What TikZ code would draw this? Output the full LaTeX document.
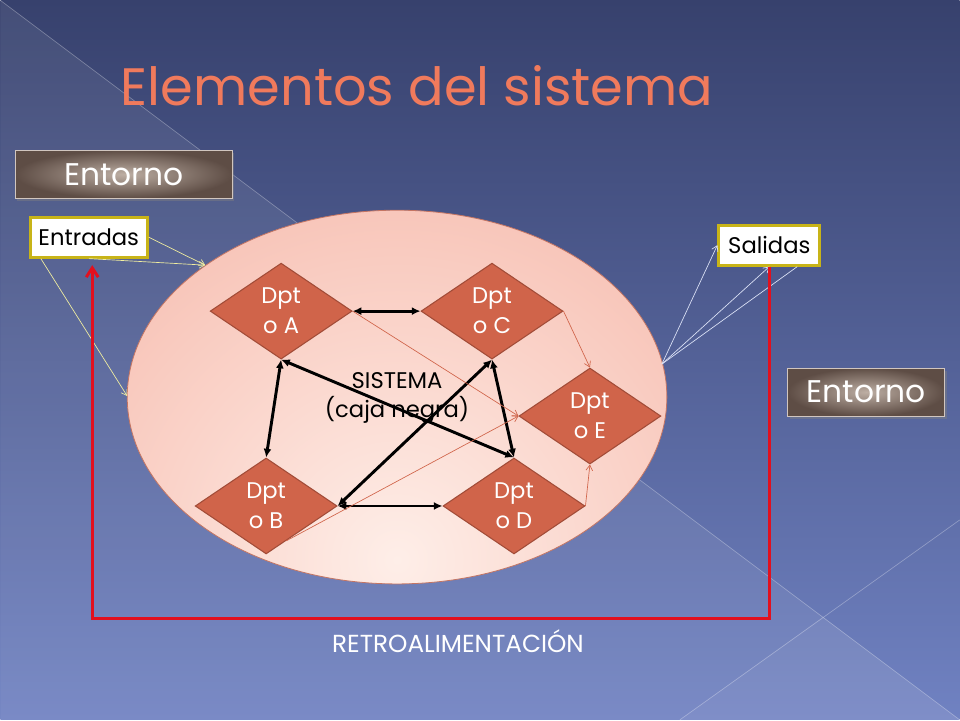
\documentclass[tikz,border=0pt]{standalone}
\usepackage{fontspec}
\setmainfont{Poppins}
\usepackage{tikz}
\usetikzlibrary{shapes.geometric, positioning}
\usetikzlibrary{arrows.meta}
\usetikzlibrary{shadows}
\definecolor{slidetop}{HTML}{37416D}
\definecolor{slidebot}{HTML}{7082C2}
\definecolor{titlesalmon}{HTML}{F07A5C}
\definecolor{syslight}{HTML}{FEEEE8}
\definecolor{sysdark}{HTML}{F4AA9A}
\definecolor{sysline}{HTML}{C47563}
\definecolor{dptfill}{HTML}{D0644A}
\definecolor{dptline}{HTML}{A24C38}
\definecolor{entlight}{HTML}{BDAEA3}
\definecolor{entdark}{HTML}{5E4D45}
\definecolor{ioline}{HTML}{C8B418}
\definecolor{inline}{HTML}{F2EFA0}
\definecolor{outline}{HTML}{DDE3F7}
\definecolor{fbred}{HTML}{E2101E}

\begin{document}
\begin{tikzpicture}[x=0.75pt, y=-0.75pt,
		dpt/.style={diamond, aspect=1.48, fill=dptfill, draw=dptline, line width=0.8pt,
			minimum width=106.5pt, minimum height=72pt, inner sep=0pt, text=white,
			align=center, font=\fontsize{17}{22.5}\selectfont},
		entorno/.style={rectangle, inner color=entlight, outer color=entdark,
			draw=entlight!70!white, line width=0.5pt, minimum height=36pt,
			text=white, font=\fontsize{23.5}{26}\selectfont,
			drop shadow={shadow xshift=1.5pt, shadow yshift=-2pt, opacity=0.45}},
		iobox/.style={rectangle, fill=white, draw=ioline, line width=2.2pt,
			minimum height=30pt, inner sep=0pt, font=\fontsize{17}{20}\selectfont},
		link/.style={<->, >={Latex[length=6.5pt, width=6pt]}, line width=2.2pt, black},
		flow/.style={->, >={Straight Barb[length=4pt, width=5pt]}, line width=0.5pt, dptfill},
		feed/.style={->, >={Straight Barb[length=7pt, width=9pt]}, line width=2.2pt, fbred}]

		% slide background with its faint diagonals
		\shade[top color=slidetop, bottom color=slidebot] (0,0) rectangle (960,720);
		\fill[white, opacity=0.07] (0,0) -- (960,720) -- (0,720) -- cycle;
		\fill[white, opacity=0.04] (680,720) -- (823,617) -- (960,720) -- cycle;
		\draw[white, opacity=0.3, line width=0.5pt] (0,0) -- (960,720);
		\draw[white, opacity=0.3, line width=0.5pt] (680,720) -- (960,520);

		% title
		\node[anchor=base, text=titlesalmon, font=\fontsize{39.5}{44}\selectfont] (title) at (417,105)
			{Elementos del sistema};

		% the system (caja negra)
		\begin{scope}
			\clip (397,397) ellipse (270 and 187);
			\shade[inner color=syslight, outer color=sysdark] (397,560) circle (600);
		\end{scope}
		\draw[sysline, line width=0.6pt] (397,397) ellipse (270 and 187);
		\node[align=center, font=\fontsize{17}{22.5}\selectfont] (sistema) at (397,398)
			{SISTEMA\\(caja negra)};

		% the departments
		\node[dpt] (dptA) at (281,311) {Dpt\\o A};
		\node[dpt] (dptC) at (492,311) {Dpt\\o C};
		\node[dpt] (dptB) at (266,506) {Dpt\\o B};
		\node[dpt] (dptD) at (514,506) {Dpt\\o D};
		\node[dpt] (dptE) at (590,416) {Dpt\\o E};

		% two-way links between departments
		\draw[link] (dptA.east) -- (dptC.west);
		\draw[link] (dptA.south) -- (dptB.north);
		\draw[link] (dptA.south) -- (dptD.north);
		\draw[link] (dptC.south) -- (dptD.north);
		\draw[link] (dptB.east) -- (dptC.south);
		\draw[link] (dptB.east) -- (dptD.west);

		% thin flows into Dpt o E
		\draw[flow] (dptA.east) -- (dptE.west);
		\draw[flow] (dptB.-60) -- (dptE.west);
		\draw[flow] (dptC.east) -- (dptE.north);
		\draw[flow] (dptD.east) -- (dptE.south);

		% environment labels
		\node[entorno, minimum width=162.75pt] (entorno1) at (123.5,174) {Entorno};
		\node[entorno, minimum width=117.75pt] (entorno2) at (866.5,392) {Entorno};

		% inputs and outputs
		\node[iobox, minimum width=87.75pt] (entradas) at (88.5,237) {Entradas};
		\node[iobox, minimum width=75.75pt] (salidas) at (769.5,245) {Salidas};

		\coordinate (sysTL) at (205,265);
		\coordinate (sysL) at (127,396);
		\coordinate (sysR) at (662,364);
		\draw[flow, inline] (entradas.east) -- (sysTL);
		\draw[flow, inline] (entradas.south) -- (sysTL);
		\draw[flow, inline] ([xshift=9pt]entradas.south west) -- (sysL);
		\draw[flow, outline] (sysR) -- (salidas.west);
		\draw[flow, outline] (sysR) -- (salidas.south);
		\draw[outline, line width=0.5pt] (sysR) -- ([xshift=21pt]salidas.south);

		% feedback loop
		\coordinate (fbBR) at (769.5,619);
		\coordinate (fbBL) at (92,619);
		\coordinate (fbEnd) at (92,265);
		\draw[feed] (salidas.south) -- (fbBR) -- (fbBL) -- (fbEnd);
		\node[text=white, font=\fontsize{18.5}{20}\selectfont] (retro) at (458,641) {RETROALIMENTACIÓN};
	\end{tikzpicture}
\end{document}
